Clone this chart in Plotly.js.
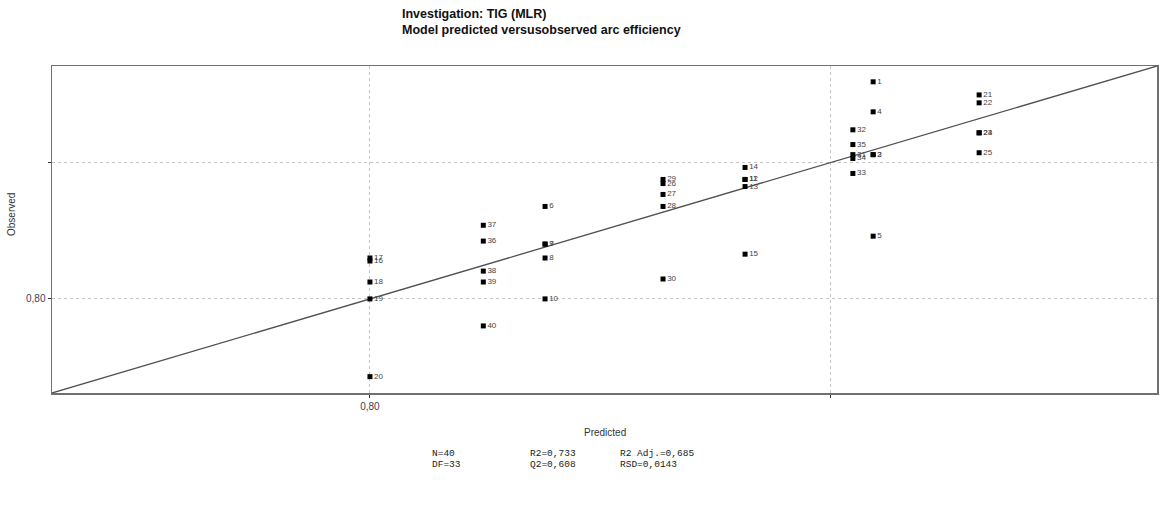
<!DOCTYPE html>
<html><head><meta charset="utf-8">
<script src="https://cdn.plot.ly/plotly-3.0.1.min.js"></script>
<style>html,body{margin:0;padding:0;background:#fff;}#chart{width:1160px;height:508px;}</style>
</head><body><div id="chart"></div>
<script>
// Observation numbers
const obsLabels = ['1','2','3','4','5','6','7','8','9','10','11','12','13','14','15','16','17','18','19','20',
  '21','22','23','24','25','26','27','28','29','30','31','32','33','34','35','36','37','38','39','40'];
// Model predicted values
const predicted = [0.8546,0.8546,0.8546,0.8546,0.8546,
  0.8190,0.8190,0.8190,0.8190,0.8190,
  0.8407,0.8407,0.8407,0.8407,0.8407,
  0.8000,0.8000,0.8000,0.8000,0.8000,
  0.8661,0.8661,0.8661,0.8661,0.8661,
  0.8318,0.8318,0.8318,0.8318,0.8318,
  0.8524,0.8524,0.8524,0.8524,0.8524,
  0.8123,0.8123,0.8123,0.8123,0.8123];
// Observed values
const observed = [0.8796,0.8529,0.8529,0.8686,0.8230,
  0.8339,0.8201,0.8150,0.8201,0.8000,
  0.8438,0.8438,0.8412,0.8482,0.8164,
  0.8139,0.8150,0.8062,0.8000,0.7715,
  0.8748,0.8719,0.8609,0.8609,0.8536,
  0.8423,0.8383,0.8339,0.8438,0.8073,
  0.8529,0.8620,0.8460,0.8515,0.8566,
  0.8212,0.8270,0.8102,0.8062,0.7901];
const axisRange = [0.7655, 0.8854];
const tickVals = [0.80, 0.85];
const tickText = ['0,80', ''];
const statsRow1 = ['N=40', 'R2=0,733', 'R2 Adj.=0,685'];
const statsRow2 = ['DF=33', 'Q2=0,608', 'RSD=0,0143'];

const W = 1160, H = 508, mL = 52, mR = 3, mT = 66, mB = 115;
const pw = W - mL - mR, ph = H - mT - mB;
const px = x => (x - mL) / pw;
const py = y => (H - mB - y) / ph;

const traces = [
  {x: axisRange, y: axisRange, mode: 'lines', line: {color: '#505050', width: 1.3}, hoverinfo: 'skip', showlegend: false},
  {x: predicted, y: observed, text: obsLabels, mode: 'markers+text', textposition: 'middle right',
   textfont: {family: 'Liberation Sans, Arial', size: 8, color: '#444444'},
   marker: {symbol: 'square', size: 5, color: '#000'}, showlegend: false}
];

const statsX = [430, 528, 618];
const ann = [
  {text: '<b>Investigation: TIG (MLR)</b><br><b>Model predicted versusobserved arc efficiency</b>', xref: 'paper', yref: 'paper',
   x: px(400), y: py(5), xanchor: 'left', yanchor: 'top', align: 'left', showarrow: false,
   font: {family: 'Liberation Sans, Arial', size: 12.5, color: '#111'}},
  {text: 'Predicted', xref: 'paper', yref: 'paper', x: px(605), y: py(432), xanchor: 'center', yanchor: 'middle', showarrow: false,
   font: {family: 'Liberation Sans, Arial', size: 10, color: '#333'}},
  {text: 'Observed', xref: 'paper', yref: 'paper', x: px(11), y: py(215), xanchor: 'center', yanchor: 'middle', textangle: -90, showarrow: false,
   font: {family: 'Liberation Sans, Arial', size: 10, color: '#333'}}
];
statsRow1.forEach((t, i) => ann.push({text: t, xref: 'paper', yref: 'paper', x: px(statsX[i]), y: py(453), xanchor: 'left', yanchor: 'middle', showarrow: false,
   font: {family: 'Liberation Mono, Courier New, monospace', size: 9.5, color: '#222'}}));
statsRow2.forEach((t, i) => ann.push({text: t, xref: 'paper', yref: 'paper', x: px(statsX[i]), y: py(464), xanchor: 'left', yanchor: 'middle', showarrow: false,
   font: {family: 'Liberation Mono, Courier New, monospace', size: 9.5, color: '#222'}}));

const axCommon = {range: axisRange, tickvals: tickVals, ticktext: tickText, showgrid: true, gridcolor: '#c4c4c4', griddash: 'dot', gridwidth: 1,
  zeroline: false, showline: true, mirror: true, linecolor: '#707070', linewidth: 1.5, ticks: 'outside', ticklen: 3, tickcolor: '#333',
  tickfont: {family: 'Liberation Sans, Arial', size: 10, color: '#404055'}};

const layout = {
  width: W, height: H, margin: {l: mL, r: mR, t: mT, b: mB, pad: 0},
  paper_bgcolor: '#fff', plot_bgcolor: '#fff',
  xaxis: Object.assign({}, axCommon),
  yaxis: Object.assign({}, axCommon),
  annotations: ann, showlegend: false
};
Plotly.newPlot('chart', traces, layout, {displayModeBar: false, staticPlot: true});
</script></body></html>
